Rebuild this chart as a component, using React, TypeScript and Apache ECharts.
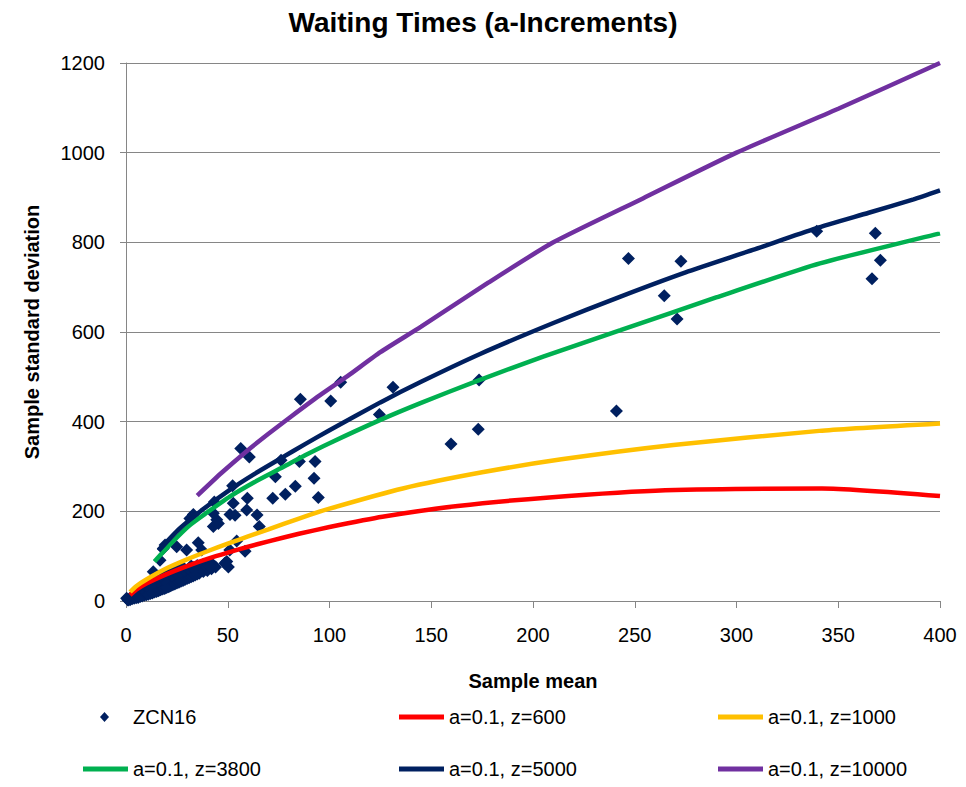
import React, { useEffect, useRef } from "react";
import * as echarts from "echarts";

const FONT = "'Liberation Sans', Arial, sans-serif";

const xTicks = [0, 50, 100, 150, 200, 250, 300, 350, 400];
const yTicks = [0, 200, 400, 600, 800, 1000, 1200];

const seriesNames = [
  "ZCN16",
  "a=0.1, z=600",
  "a=0.1, z=1000",
  "a=0.1, z=3800",
  "a=0.1, z=5000",
  "a=0.1, z=10000",
];

const seriesColors = ["#002060", "#FF0000", "#FFC000", "#00B050", "#002060", "#7030A0"];

// ZCN16 observations: [sample mean, sample standard deviation]
const zcnPoints: [number, number][] = [
  [1, 2], [1, 3], [2, 3], [2, 6], [3, 5], [3, 9], [4, 6], [4, 12], [5, 7], [5, 15],
  [6, 8], [6, 11], [6, 18], [7, 10], [7, 21], [8, 11], [8, 16], [8, 25], [9, 13], [9, 28],
  [10, 14], [10, 20], [10, 32], [11, 15], [11, 36], [12, 17], [12, 25], [12, 40], [13, 18], [13, 45],
  [14, 20], [14, 31], [14, 50], [15, 21], [15, 38], [16, 23], [16, 30], [16, 55], [17, 25], [17, 44],
  [18, 27], [18, 35], [18, 58], [19, 28], [19, 48], [20, 30], [20, 40], [20, 62], [21, 32], [21, 52],
  [22, 34], [22, 45], [22, 65], [23, 36], [23, 56], [24, 38], [24, 50], [24, 68], [25, 40], [25, 60],
  [26, 42], [26, 55], [26, 72], [27, 44], [27, 64], [28, 46], [28, 58], [28, 75], [29, 48], [29, 68],
  [30, 50], [30, 62], [31, 52], [31, 72], [32, 54], [32, 66], [32, 78], [33, 56], [33, 75], [34, 58],
  [34, 68], [35, 60], [35, 79], [36, 62], [36, 72], [38, 66], [38, 82], [40, 68], [40, 76], [42, 72],
  [42, 84], [44, 76],
  [0.3, 6], [13.4, 65], [16.7, 91], [18.3, 117], [24.9, 121], [19.2, 125], [29.8, 114], [35.5, 130],
  [37.2, 114], [31.4, 184], [33.1, 193], [42.9, 196], [43.4, 221], [45.4, 173], [42.9, 166], [44.6, 181],
  [48.6, 84], [50.3, 76], [41.3, 77], [49.5, 88], [51, 114], [54.4, 134], [58.5, 111], [65.5, 166],
  [51.1, 193], [53.6, 191], [52.7, 218], [59.3, 203], [64.4, 192], [52.4, 257], [59.6, 229], [56.4, 340],
  [60.6, 321], [72.1, 229], [73.4, 277], [76.2, 314], [78.3, 238], [83.2, 256], [85.2, 311], [85.7, 450],
  [92.9, 311], [92.4, 274], [94.5, 231], [100.6, 446], [105.5, 488], [124.5, 416], [131.2, 477], [159.7, 350],
  [173.1, 383], [173.5, 493], [241, 424], [246.9, 764], [264.5, 681], [270.8, 629], [272.7, 758], [339.4, 825],
  [366.6, 719], [368.2, 820], [370.7, 760],
];

const z600: [number, number][] = [
  [2, 13], [5, 25], [10, 39], [20, 60], [30, 78], [40, 94], [50, 108], [60, 121], [70, 133],
  [85, 150], [100, 165], [126, 188], [163, 212], [208, 231], [265, 247], [342, 251], [400, 234],
];

const z1000: [number, number][] = [
  [2, 20], [5, 33], [10, 48], [20, 73], [30, 93], [40, 111], [50, 128], [60, 144], [70, 160],
  [85, 184], [100, 206], [136, 251], [175, 287], [214, 316], [269, 348], [342, 380], [400, 396],
];

const z3800: [number, number][] = [
  [14, 88], [22, 128], [31, 168], [40, 198], [51, 233], [63, 265], [76, 296], [88, 325], [100, 352],
  [125, 404], [145, 442], [172, 490], [205, 545], [243, 604], [290, 677], [341, 753], [400, 820],
];

const z5000: [number, number][] = [
  [16, 112], [26, 160], [38, 205], [51, 248], [63, 283], [76, 318], [88, 350], [100, 381], [125, 443],
  [145, 489], [174, 551], [210, 620], [243, 679], [275, 733], [308, 783], [339, 831], [365, 866],
  [387, 896], [400, 916],
];

const z10000: [number, number][] = [
  [35, 235], [47, 286], [59, 333], [70, 373], [81, 411], [95, 458], [109, 502], [125, 555], [145, 612],
  [178, 710], [210, 800], [254, 898], [300, 1000], [350, 1098], [400, 1200],
];

const lineData = [z600, z1000, z3800, z5000, z10000];

const legendPos: [number, number][] = [
  [100, 705], [399, 705], [718, 705],
  [83, 757], [399, 757], [718, 757],
];

export default function App() {
  const ref = useRef<HTMLDivElement>(null);

  useEffect(() => {
    if (!ref.current) return;
    const chart = echarts.init(ref.current, undefined, { renderer: "svg" });

    const legends = seriesNames.map((name, i) => ({
      left: legendPos[i][0],
      top: legendPos[i][1],
      padding: 0,
      orient: "horizontal",
      selectedMode: false,
      symbolKeepAspect: true,
      itemWidth: i === 0 ? 9 : 45,
      itemHeight: i === 0 ? 10 : 5,
      data: [{ name, icon: i === 0 ? "diamond" : "rect" }],
      textStyle: {
        fontFamily: FONT,
        fontSize: 20,
        color: "#000",
        lineHeight: 24,
        padding: i === 0 ? [0, 0, 0, 19] : 0,
      },
    }));

    const series: any[] = [
      {
        name: seriesNames[0],
        type: "scatter",
        data: zcnPoints,
        symbol: "diamond",
        symbolSize: 13,
        itemStyle: { color: seriesColors[0], opacity: 1 },
        z: 2,
      },
      ...lineData.map((d, i) => ({
        name: seriesNames[i + 1],
        type: "line",
        data: d,
        showSymbol: false,
        symbol: "none",
        smooth: 0.2,
        lineStyle: { color: seriesColors[i + 1], width: 4.5 },
        itemStyle: { color: seriesColors[i + 1] },
        z: 3,
      })),
    ];

    chart.setOption({
      animation: false,
      backgroundColor: "#fff",
      title: {
        text: "Waiting Times (a-Increments)",
        left: "center",
        top: 3,
        textStyle: { fontFamily: FONT, fontSize: 28, fontWeight: "bold", color: "#000" },
      },
      legend: legends,
      grid: { left: 126, right: 26, top: 63, bottom: 186, containLabel: false },
      xAxis: {
        type: "value",
        min: xTicks[0],
        max: xTicks[xTicks.length - 1],
        interval: 50,
        name: "Sample mean",
        nameLocation: "middle",
        nameGap: 70,
        nameTextStyle: { fontFamily: FONT, fontSize: 20, fontWeight: "bold", color: "#000" },
        axisLine: { show: true, lineStyle: { color: "#868686", width: 1 } },
        axisTick: { show: true, length: 7, lineStyle: { color: "#868686" } },
        axisLabel: {
          fontFamily: FONT,
          fontSize: 20,
          color: "#000",
          margin: 24,
          formatter: (v: number) => String(v),
        },
        splitLine: { show: false },
      },
      yAxis: {
        type: "value",
        min: yTicks[0],
        max: yTicks[yTicks.length - 1],
        interval: 200,
        name: "Sample standard deviation",
        nameLocation: "middle",
        nameGap: 84,
        nameTextStyle: { fontFamily: FONT, fontSize: 20, fontWeight: "bold", color: "#000" },
        axisLine: { show: true, lineStyle: { color: "#868686", width: 1 } },
        axisTick: { show: true, length: 6, lineStyle: { color: "#868686" } },
        axisLabel: {
          fontFamily: FONT,
          fontSize: 20,
          color: "#000",
          margin: 21,
          formatter: (v: number) => String(v),
        },
        splitLine: { show: true, lineStyle: { color: "#868686", width: 1 } },
      },
      series,
    });

    return () => chart.dispose();
  }, []);

  return (
    <div
      ref={ref}
      style={{ position: "fixed", left: 0, top: 0, width: 966, height: 787, background: "#fff" }}
    />
  );
}
